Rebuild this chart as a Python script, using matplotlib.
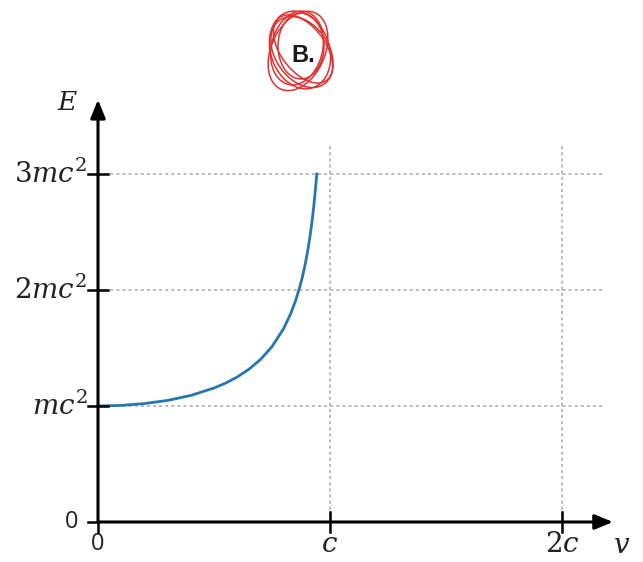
import matplotlib
matplotlib.use("Agg")
import matplotlib.pyplot as plt
from matplotlib.patches import Ellipse

plt.rcParams["mathtext.fontset"] = "dejavuserif"

# Speed in units of c and total energy in units of mc^2
speed = [0, 0.1, 0.2, 0.3, 0.4, 0.5, 0.55, 0.6, 0.65, 0.7, 0.75, 0.8,
         0.83, 0.85, 0.87, 0.88, 0.89, 0.9, 0.91, 0.92, 0.925, 0.93,
         0.935, 0.94, 0.943]
energy = [1.0, 1.005, 1.021, 1.048, 1.091, 1.155, 1.197, 1.25, 1.316, 1.40,
          1.512, 1.667, 1.793, 1.898, 2.028, 2.105, 2.193, 2.294, 2.412,
          2.551, 2.632, 2.721, 2.822, 2.931, 3.0]

x_ticks = [0, 1, 2]
x_labels = ["0", "$c$", "$2c$"]
y_ticks = [0, 1, 2, 3]
y_labels = ["0", "$mc^2$", "$2mc^2$", "$3mc^2$"]

W, H = 643, 562
fig = plt.figure(figsize=(W / 100, H / 100), dpi=100)
ax = fig.add_axes([0, 0, 1, 1])
ox, oy, sx, sy = 98, 522, 232, 116
ax.set_xlim(-ox / sx, (W - ox) / sx)
ax.set_ylim((oy - H) / sy, oy / sy)
ax.axis("off")

grid_kw = dict(color="#a8a8a8", lw=1.1, ls=(0, (2.0, 2.0)), zorder=1)
for yt in y_ticks[1:]:
    ax.plot([0, 2.177], [yt, yt], **grid_kw)
for xt in x_ticks[1:]:
    ax.plot([xt, xt], [0, 3.25], **grid_kw)

# axes with arrow heads
arrow_kw = dict(arrowstyle="-|>,head_length=1.1,head_width=0.45",
                lw=2.2, color="black", shrinkA=0, shrinkB=0)
ax.annotate("", xy=(2.22, 0), xytext=(0, 0), arrowprops=arrow_kw, zorder=4)
ax.annotate("", xy=(0, 3.64), xytext=(0, 0), arrowprops=arrow_kw, zorder=4)

# tick crosses
tx, ty = 10 / sx, 10 / sy
for xt in x_ticks:
    ax.plot([xt, xt], [-ty, ty if xt else 0], color="black", lw=1.8, zorder=4)
for yt in y_ticks:
    ax.plot([-tx, tx if yt else 0], [yt, yt], color="black", lw=1.8, zorder=4)

for xt, lab in zip(x_ticks, x_labels):
    if xt == 0:
        ax.text(xt, -0.09, lab, ha="center", va="top", fontsize=17,
                family="Open Sans", color="#222222")
    else:
        ax.text(xt, -0.07, lab, ha="center", va="top", fontsize=20, color="#222222")
for yt, lab in zip(y_ticks, y_labels):
    if yt == 0:
        ax.text(-0.085, yt, lab, ha="right", va="center", fontsize=17,
                family="Open Sans", color="#222222")
    else:
        ax.text(-0.045, yt - 0.005, lab, ha="right", va="center", fontsize=20,
                color="#222222")

ax.text((622 - ox) / sx, (oy - 545) / sy, "$v$", ha="center", va="center",
        fontsize=20, color="#222222")
ax.text((68 - ox) / sx, (oy - 103) / sy, "$E$", ha="center", va="center",
        fontsize=19, color="#222222")

ax.plot(speed, energy, color="#2677b0", lw=2.0, zorder=3,
        solid_joinstyle="round")

# circled answer mark
bx, by = (300 - ox) / sx, (oy - 50) / sy
ax.text((303 - ox) / sx, (oy - 56) / sy, "B.", ha="center", va="center",
        fontsize=17, fontweight="bold", family="Liberation Sans",
        color="#1a1a1a", zorder=5)
for dx, dy, w, h, ang in [(0, 0, 60, 78, 5), (-3, 2, 52, 74, -4),
                          (2, -2, 58, 72, 10), (1, 4, 46, 66, 0),
                          (-2, -1, 56, 80, -8), (3, 1, 50, 70, 14)]:
    ax.add_patch(Ellipse((bx + dx / sx, by + dy / sy), w / sx, h / sy, angle=ang,
                         fill=False, ec="#e03030", lw=1.1, zorder=4))

fig.savefig("out.png", dpi=100, facecolor="white")
